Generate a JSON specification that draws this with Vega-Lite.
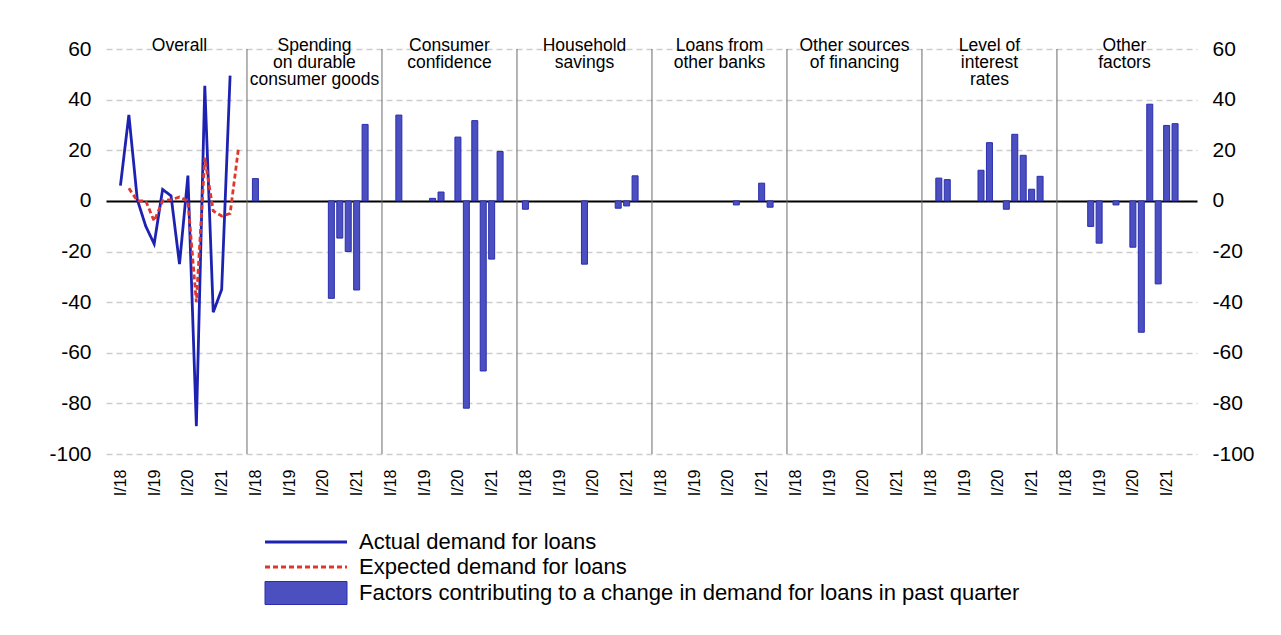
{
  "$schema": "https://vega.github.io/schema/vega-lite/v6.json",
  "width": 1091,
  "height": 405,
  "autosize": {"type": "none"},
  "padding": {"left": 106, "top": 49, "right": 84, "bottom": 181},
  "background": "white",
  "config": {"font": "Liberation Sans", "view": {"stroke": null}},
  "datasets": {
    "panels": [
      {"panel": 0, "factor": "Overall", "title": "Overall"},
      {"panel": 1, "factor": "Spending on durable consumer goods", "title": "Spending\non durable\nconsumer goods"},
      {"panel": 2, "factor": "Consumer confidence", "title": "Consumer\nconfidence"},
      {"panel": 3, "factor": "Household savings", "title": "Household\nsavings"},
      {"panel": 4, "factor": "Loans from other banks", "title": "Loans from\nother banks"},
      {"panel": 5, "factor": "Other sources of financing", "title": "Other sources\nof financing"},
      {"panel": 6, "factor": "Level of interest rates", "title": "Level of\ninterest\nrates"},
      {"panel": 7, "factor": "Other factors", "title": "Other\nfactors"}
    ],
    "demand": [
      {"series": "Actual demand for loans", "q": 0, "quarter": "I/18", "value": 6},
      {"series": "Actual demand for loans", "q": 1, "quarter": "II/18", "value": 34},
      {"series": "Actual demand for loans", "q": 2, "quarter": "III/18", "value": 0.5},
      {"series": "Actual demand for loans", "q": 3, "quarter": "IV/18", "value": -10},
      {"series": "Actual demand for loans", "q": 4, "quarter": "I/19", "value": -17},
      {"series": "Actual demand for loans", "q": 5, "quarter": "II/19", "value": 4.5},
      {"series": "Actual demand for loans", "q": 6, "quarter": "III/19", "value": 2},
      {"series": "Actual demand for loans", "q": 7, "quarter": "IV/19", "value": -25},
      {"series": "Actual demand for loans", "q": 8, "quarter": "I/20", "value": 10},
      {"series": "Actual demand for loans", "q": 9, "quarter": "II/20", "value": -89},
      {"series": "Actual demand for loans", "q": 10, "quarter": "III/20", "value": 45.5},
      {"series": "Actual demand for loans", "q": 11, "quarter": "IV/20", "value": -44},
      {"series": "Actual demand for loans", "q": 12, "quarter": "I/21", "value": -35},
      {"series": "Actual demand for loans", "q": 13, "quarter": "II/21", "value": 49.5},
      {"series": "Expected demand for loans", "q": 1, "quarter": "II/18", "value": 5},
      {"series": "Expected demand for loans", "q": 2, "quarter": "III/18", "value": 0},
      {"series": "Expected demand for loans", "q": 3, "quarter": "IV/18", "value": 0},
      {"series": "Expected demand for loans", "q": 4, "quarter": "I/19", "value": -8},
      {"series": "Expected demand for loans", "q": 5, "quarter": "II/19", "value": 0},
      {"series": "Expected demand for loans", "q": 6, "quarter": "III/19", "value": 0.5},
      {"series": "Expected demand for loans", "q": 7, "quarter": "IV/19", "value": 1.5},
      {"series": "Expected demand for loans", "q": 8, "quarter": "I/20", "value": 0},
      {"series": "Expected demand for loans", "q": 9, "quarter": "II/20", "value": -40},
      {"series": "Expected demand for loans", "q": 10, "quarter": "III/20", "value": 17},
      {"series": "Expected demand for loans", "q": 11, "quarter": "IV/20", "value": -4},
      {"series": "Expected demand for loans", "q": 12, "quarter": "I/21", "value": -6},
      {"series": "Expected demand for loans", "q": 13, "quarter": "II/21", "value": -5},
      {"series": "Expected demand for loans", "q": 14, "quarter": "III/21", "value": 21}
    ],
    "factors": [
      {"panel": 1, "q": 0, "value": 8.8},
      {"panel": 1, "q": 9, "value": -38.5},
      {"panel": 1, "q": 10, "value": -14.7},
      {"panel": 1, "q": 11, "value": -20},
      {"panel": 1, "q": 12, "value": -35.2},
      {"panel": 1, "q": 13, "value": 30.2},
      {"panel": 2, "q": 1, "value": 33.9},
      {"panel": 2, "q": 5, "value": 1},
      {"panel": 2, "q": 6, "value": 3.5},
      {"panel": 2, "q": 8, "value": 25.2},
      {"panel": 2, "q": 9, "value": -81.9},
      {"panel": 2, "q": 10, "value": 31.7},
      {"panel": 2, "q": 11, "value": -67.2},
      {"panel": 2, "q": 12, "value": -23},
      {"panel": 2, "q": 13, "value": 19.5},
      {"panel": 3, "q": 0, "value": -3.3},
      {"panel": 3, "q": 7, "value": -25},
      {"panel": 3, "q": 11, "value": -2.9},
      {"panel": 3, "q": 12, "value": -2},
      {"panel": 3, "q": 13, "value": 9.9},
      {"panel": 4, "q": 9, "value": -1.6},
      {"panel": 4, "q": 12, "value": 7},
      {"panel": 4, "q": 13, "value": -2.5},
      {"panel": 6, "q": 1, "value": 9},
      {"panel": 6, "q": 2, "value": 8.4},
      {"panel": 6, "q": 6, "value": 12.1},
      {"panel": 6, "q": 7, "value": 23},
      {"panel": 6, "q": 9, "value": -3.3},
      {"panel": 6, "q": 10, "value": 26.3},
      {"panel": 6, "q": 11, "value": 18},
      {"panel": 6, "q": 12, "value": 4.6},
      {"panel": 6, "q": 13, "value": 9.7},
      {"panel": 7, "q": 3, "value": -10.1},
      {"panel": 7, "q": 4, "value": -16.7},
      {"panel": 7, "q": 6, "value": -1.6},
      {"panel": 7, "q": 8, "value": -18.3},
      {"panel": 7, "q": 9, "value": -51.9},
      {"panel": 7, "q": 10, "value": 38.2},
      {"panel": 7, "q": 11, "value": -32.8},
      {"panel": 7, "q": 12, "value": 29.8},
      {"panel": 7, "q": 13, "value": 30.5}
    ]
  },
  "encoding": {
    "x": {
      "field": "pos", "type": "quantitative",
      "scale": {"domain": [-0.71, 128.6], "nice": false, "zero": false, "padding": 0},
      "axis": {
        "values": [1,5,9,13,17,21,25,29,33,37,41,45,49,53,57,61,65,69,73,77,81,85,89,93,97,101,105,109,113,117,121,125],
        "labelExpr": "['I/18','I/19','I/20','I/21'][floor(((datum.value - 1) % 16) / 4)]",
        "labelAngle": -90, "labelFontSize": 16, "labelPadding": 15, "labelColor": "#000",
        "ticks": false, "tickSize": 0, "domain": false, "grid": false, "title": null,
        "labelFlush": false, "labelOverlap": false, "labelBound": false
      }
    }
  },
  "resolve": {"axis": {"y": "independent"}},
  "layer": [
    {
      "data": {"name": "panels"},
      "transform": [{"filter": "datum.panel > 0"}, {"calculate": "datum.panel * 16", "as": "pos"}],
      "mark": {"type": "rule", "color": "#6a6a6a", "strokeWidth": 1},
      "encoding": {
        "y": {"datum": 60, "type": "quantitative", "scale": {"domain": [-100, 60], "nice": false, "zero": false}, "axis": null},
        "y2": {"datum": -100}
      }
    },
    {
      "data": {"name": "factors"},
      "transform": [{"calculate": "datum.panel * 16 + datum.q + 1", "as": "pos"}],
      "mark": {"type": "bar", "size": 6, "stroke": "#2a2eae", "strokeWidth": 1},
      "encoding": {
        "y": {
          "field": "value", "type": "quantitative",
          "scale": {"domain": [-100, 60], "nice": false, "zero": false},
          "axis": {
            "orient": "left", "values": [-100,-80,-60,-40,-20,0,20,40,60],
            "labelExpr": "toString(datum.value)",
            "grid": true,
            "gridColor": {"condition": {"test": "datum.value === 0", "value": "#000000"}, "value": "#cdcdcd"},
            "gridDash": {"condition": {"test": "datum.value === 0", "value": []}, "value": [6, 4]},
            "gridWidth": {"condition": {"test": "datum.value === 0", "value": 2}, "value": 1.5},
            "domain": false, "ticks": false, "tickSize": 0, "labelFontSize": 21, "labelPadding": 15,
            "labelColor": "#000", "title": null
          }
        },
        "y2": {"datum": 0},
        "fill": {
          "datum": "Factors contributing to a change in demand for loans in past quarter",
          "type": "nominal",
          "scale": {"range": ["#4b4fc0"]},
          "legend": {
            "title": null, "orient": "none", "legendX": 189, "legendY": 533,
            "symbolType": "M-8.2,-2.3H8.2V2.3H-8.2Z", "symbolSize": 100,
            "symbolStrokeColor": "#2a2eae", "symbolStrokeWidth": 1,
            "labelFontSize": 22, "labelOffset": 42, "padding": 0,
            "labelColor": "#000", "labelLimit": 1000
          }
        }
      }
    },
    {
      "data": {"name": "demand"},
      "transform": [{"calculate": "datum.q + 1", "as": "pos"}],
      "mark": {"type": "line", "strokeWidth": 2.8},
      "encoding": {
        "y": {
          "field": "value", "type": "quantitative",
          "scale": {"domain": [-100, 60], "nice": false, "zero": false},
          "axis": {
            "orient": "right", "values": [-100,-80,-60,-40,-20,0,20,40,60],
            "labelExpr": "toString(datum.value)",
            "grid": false, "domain": false, "ticks": false, "tickSize": 0,
            "labelFontSize": 21, "labelPadding": 15, "labelColor": "#000", "title": null
          }
        },
        "color": {
          "field": "series", "type": "nominal",
          "scale": {"domain": ["Actual demand for loans", "Expected demand for loans"], "range": ["#1e22b0", "#e0362c"]},
          "legend": {
            "title": null, "orient": "none", "legendX": 189, "legendY": 482, "direction": "vertical",
            "symbolType": "M-8.2,0H8.2", "symbolSize": 100, "symbolStrokeWidth": 2.8,
            "labelFontSize": 22, "labelOffset": 42, "rowPadding": 3, "padding": 0,
            "labelColor": "#000", "labelLimit": 1000
          }
        },
        "strokeDash": {
          "field": "series", "type": "nominal",
          "scale": {"domain": ["Actual demand for loans", "Expected demand for loans"], "range": [[1, 0], [5, 3]]},
          "legend": {
            "title": null, "orient": "none", "legendX": 189, "legendY": 482, "direction": "vertical",
            "symbolType": "M-8.2,0H8.2", "symbolSize": 100, "symbolStrokeWidth": 2.8,
            "labelFontSize": 22, "labelOffset": 42, "rowPadding": 3, "padding": 0,
            "labelColor": "#000", "labelLimit": 1000
          }
        }
      }
    },
    {
      "data": {"name": "panels"},
      "transform": [{"calculate": "datum.panel * 16 + 8", "as": "pos"}],
      "mark": {"type": "text", "fontSize": 17.5, "lineBreak": "\n", "lineHeight": 17, "baseline": "alphabetic", "align": "center", "color": "#000"},
      "encoding": {
        "y": {"datum": 59.2, "type": "quantitative", "scale": {"domain": [-100, 60], "nice": false, "zero": false}, "axis": null},
        "text": {"field": "title", "type": "nominal"}
      }
    }
  ]
}
